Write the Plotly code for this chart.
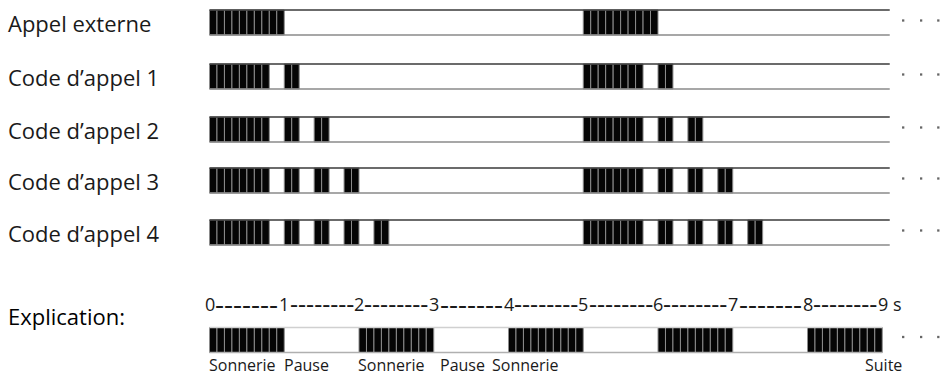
import plotly.graph_objects as go

# ---------------- data ----------------
row_labels = ["Appel externe", "Code d\u2019appel 1", "Code d\u2019appel 2",
              "Code d\u2019appel 3", "Code d\u2019appel 4"]
# alternating on/off durations, in 0.1 s cells, starting with "on"
appel_externe = [10]
code_1 = [8, 2, 2]
code_2 = [8, 2, 2, 2, 2]
code_3 = [8, 2, 2, 2, 2, 2, 2]
code_4 = [8, 2, 2, 2, 2, 2, 2, 2, 2]
row_patterns = [appel_externe, code_1, code_2, code_3, code_4]
cycle_starts = [0.0, 5.0]          # s
row_end = 9.1                      # s
cell = 0.1                         # s

explication_label = "Explication:"
explication_pattern = [10, 10, 10, 10, 10, 10, 10, 10, 10]   # 1 s on / 1 s off
explication_end = 9.0
tick_values = [0, 1, 2, 3, 4, 5, 6, 7, 8, 9]
tick_labels = ["0", "1", "2", "3", "4", "5", "6", "7", "8", "9 s"]
dash_labels = ["-------", "--------", "--------", "-------", "--------",
               "--------", "--------", "-------", "--------"]
bottom_labels = ["Sonnerie", "Pause", "Sonnerie", "Pause", "Sonnerie", "Suite"]
bottom_label_t = [0.44, 1.30, 2.43, 3.39, 4.23, 9.02]
continuation_t = [9.28, 9.52, 9.75]

# ---------------- layout constants ----------------
W, H = 941, 379
PX_PER_S = 74.75
T0_PX = 209.5

row_y = [22.5, 76.5, 129.5, 180.5, 232.5]
expl_y = 340
bar_h = 25
FONT = "Open Sans, Noto Sans, sans-serif"
TXT = "#1a1a1a"


def on_cells(pattern, start):
    starts = []
    t = start
    for i, n in enumerate(pattern):
        if i % 2 == 0:
            for k in range(n):
                starts.append(round(t + k * cell, 3))
        t += n * cell
    return starts


fig = go.Figure()


def add_row(y, pattern, starts_list, end, top_col, bot_col, dot_y):
    fig.add_trace(go.Scatter(x=[0, end], y=[y - bar_h / 2, y - bar_h / 2], mode="lines",
                             line=dict(color=top_col, width=1.5), hoverinfo="skip",
                             showlegend=False))
    fig.add_trace(go.Scatter(x=[0, end], y=[y + bar_h / 2, y + bar_h / 2], mode="lines",
                             line=dict(color=bot_col, width=1.5), hoverinfo="skip",
                             showlegend=False))
    bases = []
    for s in starts_list:
        bases += on_cells(pattern, s)
    fig.add_trace(go.Bar(orientation="h", base=bases, x=[cell] * len(bases),
                         y=[y] * len(bases), width=bar_h,
                         marker=dict(color="#050505", line=dict(color="#8c8c8c", width=1)),
                         hoverinfo="skip", showlegend=False))
    fig.add_trace(go.Scatter(x=continuation_t, y=[dot_y] * len(continuation_t), mode="markers",
                             marker=dict(color="#666", size=2.3, symbol="square"),
                             cliponaxis=False, hoverinfo="skip", showlegend=False))


for y, pat in zip(row_y, row_patterns):
    add_row(y, pat, cycle_starts, row_end, "#3a3a3a", "#8a8a8a", y - 2)

add_row(expl_y, explication_pattern, [0.0], explication_end, "#d0d0d0", "#b0b0b0", expl_y - 3)

annotations = []
for lab, y in zip(row_labels, row_y):
    annotations.append(dict(text=lab, x=0, xref="paper", y=y, yref="y", xshift=6,
                            xanchor="left", yanchor="middle", showarrow=False,
                            font=dict(family=FONT, size=22, color=TXT)))
annotations.append(dict(text=explication_label, x=0, xref="paper", y=316, yref="y",
                        xshift=6, xanchor="left", yanchor="middle", showarrow=False,
                        font=dict(family=FONT, size=22, color="#000")))
for t, lab in zip(tick_values, tick_labels):
    if lab.endswith(" s"):
        annotations.append(dict(text=lab, x=t, y=304, xref="x", yref="y", xanchor="left",
                                xshift=-6, yanchor="middle", showarrow=False,
                                font=dict(family=FONT, size=18, color=TXT)))
    else:
        annotations.append(dict(text=lab, x=t, y=304, xref="x", yref="y", xanchor="center",
                                yanchor="middle", showarrow=False,
                                font=dict(family=FONT, size=18, color=TXT)))
for i, d in enumerate(dash_labels):
    size = 28 if len(d) == 7 else 25
    annotations.append(dict(text=d, x=tick_values[i] + 0.5, y=304, xref="x", yref="y",
                            xanchor="center", yanchor="middle", showarrow=False,
                            yshift=1, font=dict(family=FONT, size=size, color=TXT)))
for lab, t in zip(bottom_labels, bottom_label_t):
    annotations.append(dict(text=lab, x=t, y=365, xref="x", yref="y", xanchor="center",
                            yanchor="middle", showarrow=False,
                            font=dict(family=FONT, size=16, color=TXT)))

fig.update_layout(
    width=W, height=H,
    margin=dict(l=0, r=0, t=0, b=0),
    paper_bgcolor="white", plot_bgcolor="white",
    barmode="overlay",
    xaxis=dict(range=[-T0_PX / PX_PER_S, (W - T0_PX) / PX_PER_S], visible=False, fixedrange=True),
    yaxis=dict(range=[H, 0], visible=False, fixedrange=True),
    annotations=annotations,
    showlegend=False,
    hovermode=False,
)

fig.write_html(
    "out.html",
    config={"displayModeBar": False, "staticPlot": True},
    post_script="document.body.style.margin='0';document.body.style.overflow='hidden';",
)
